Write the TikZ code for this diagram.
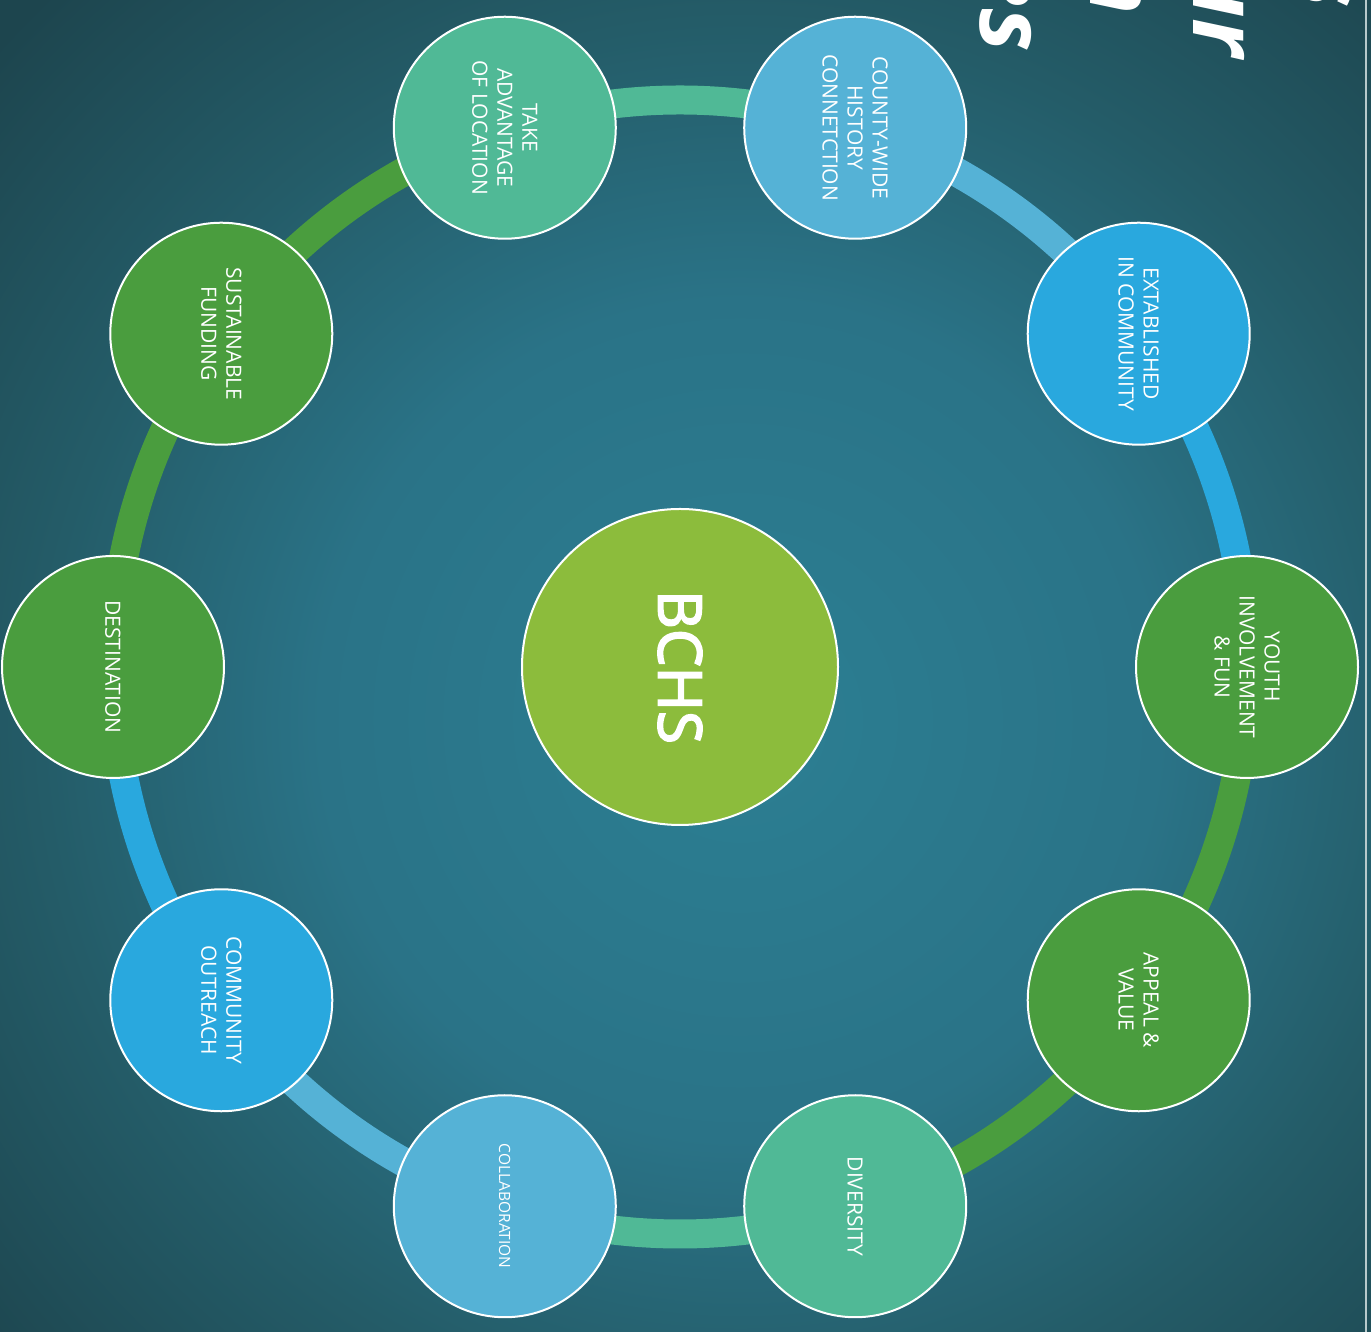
\documentclass[tikz,border=0pt]{standalone}
\usepackage{fontspec}
\setmainfont{Open Sans}
\newfontfamily\hubfont{Open Sans}[FakeBold=3]
\usetikzlibrary{calc}

% palette
\definecolor{bgA}{HTML}{2C7F93}
\definecolor{bgB}{HTML}{2A7387}
\definecolor{bgC}{HTML}{245C68}
\definecolor{bgD}{HTML}{1D454E}
\definecolor{hubgreen}{HTML}{8CBC3C}
\definecolor{leaf}{HTML}{4A9D3E}
\definecolor{sea}{HTML}{50B996}
\definecolor{sky}{HTML}{55B2D6}
\definecolor{azure}{HTML}{29A8DE}
\definecolor{pageedge}{HTML}{B8CACC}

% 25bp of the shading spans half of the shaded box (760pt here)
\pgfdeclareradialshading{bgglow}{\pgfpoint{0bp}{0bp}}{color(0bp)=(bgA); color(13.8bp)=(bgB); color(23bp)=(bgC); color(33bp)=(bgD); color(50bp)=(bgD)}

\pgfdeclarelayer{backdrop}
\pgfdeclarelayer{ringlayer}
\pgfsetlayers{backdrop,ringlayer,main}

\begin{document}
\begin{tikzpicture}[x=1pt,y=1pt,
  spoke/.style={circle, draw=white, line width=2pt, minimum size=222pt,
    inner sep=0pt, text=white, align=center, rotate=-90,
    font=\fontsize{21}{25}\selectfont},
  hub/.style={circle, draw=white, line width=2pt, minimum size=316pt,
    inner sep=0pt, text=white, rotate=-90, fill=hubgreen,
    font=\hubfont\fontsize{60}{60}\selectfont},
  band/.style={line width=29pt, line cap=butt},
  heading/.style={text=white, inner sep=0pt, rotate=-90, anchor=base east,
    font=\fontsize{92}{100}\selectfont\bfseries\itshape}]

\useasboundingbox (0,0) rectangle (1371,1332);

% backdrop with a soft glow a little right of and below the middle
\begin{pgfonlayer}{backdrop}
  \clip (0,0) rectangle (1371,1332);
  \shade[shading=bgglow] (-20,-148) rectangle (1500,1372);
  \draw[pageedge, line width=1.5pt] (1366,0) -- (1366,1332);
\end{pgfonlayer}

% tails of the heading lines, cut by the top edge
\begin{scope}
  \clip (0,0) rectangle (1371,1332);
  \node[heading] (headA) at (1300,1324) {s};
  \node[heading] (headB) at (1193,1275) {ur};
  \node[heading] (headC) at (1090,1317) {n};
  \node[heading] (headD) at (980,1280) {es};
\end{scope}

\coordinate (c) at (680,665);

% hub
\node[hub] (bchs) at (c) {BCHS};

% ring of values
\node[spoke, fill=leaf]  (youth)       at ($(c)+(0:567)$)   {YOUTH\\INVOLVEMENT\\\& FUN};
\node[spoke, fill=azure] (established) at ($(c)+(36:567)$)  {EXTABLISHED\\IN COMMUNITY};
\node[spoke, fill=sky]   (county)      at ($(c)+(72:567)$)  {COUNTY-WIDE\\HISTORY\\CONNETCTION};
\node[spoke, fill=sea]   (location)    at ($(c)+(108:567)$) {TAKE\\ADVANTAGE\\OF LOCATION};
\node[spoke, fill=leaf]  (funding)     at ($(c)+(144:567)$) {SUSTAINABLE\\FUNDING};
\node[spoke, fill=leaf]  (destination) at ($(c)+(180:567)$) {DESTINATION};
\node[spoke, fill=azure] (outreach)    at ($(c)+(216:567)$) {COMMUNITY\\OUTREACH};
\node[spoke, fill=sky, font=\fontsize{15.5}{20}\selectfont] (collab) at ($(c)+(252:567)$) {COLLABORATION};
\node[spoke, fill=sea]   (diversity)   at ($(c)+(288:567)$) {DIVERSITY};
\node[spoke, fill=leaf]  (appeal)      at ($(c)+(324:567)$) {APPEAL \&\\VALUE};

% connecting band
\begin{pgfonlayer}{ringlayer}
  \draw[band, azure] (youth.center)       arc[start angle=0,   end angle=36,  radius=567];
  \draw[band, sky]   (established.center) arc[start angle=36,  end angle=72,  radius=567];
  \draw[band, sea]   (county.center)      arc[start angle=72,  end angle=108, radius=567];
  \draw[band, leaf]  (location.center)    arc[start angle=108, end angle=144, radius=567];
  \draw[band, leaf]  (funding.center)     arc[start angle=144, end angle=180, radius=567];
  \draw[band, azure] (destination.center) arc[start angle=180, end angle=216, radius=567];
  \draw[band, sky]   (outreach.center)    arc[start angle=216, end angle=252, radius=567];
  \draw[band, sea]   (collab.center)      arc[start angle=252, end angle=288, radius=567];
  \draw[band, leaf]  (diversity.center)   arc[start angle=288, end angle=324, radius=567];
  \draw[band, leaf]  (appeal.center)      arc[start angle=324, end angle=360, radius=567];
\end{pgfonlayer}

\end{tikzpicture}
\end{document}
